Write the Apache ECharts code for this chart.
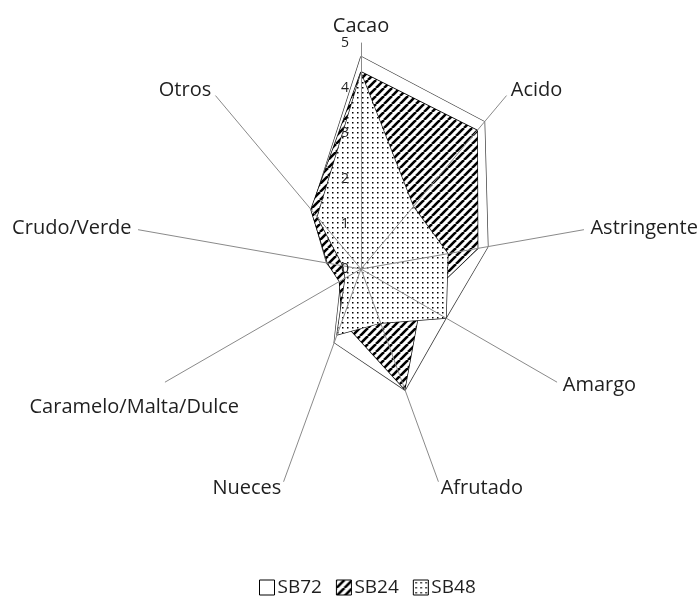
<!DOCTYPE html>
<html>
<head>
<meta charset="utf-8">
<script src="https://cdn.jsdelivr.net/npm/echarts@6/dist/echarts.min.js"></script>
<style>
html,body{margin:0;padding:0;background:#fff;}
#c{width:697px;height:600px;}
</style>
</head>
<body>
<div id="c"></div>
<script>
// ---- data (clockwise from the top, as in the reference) ----
const categories = ['Cacao','Acido','Astringente','Amargo','Afrutado','Nueces','Caramelo/Malta/Dulce','Crudo/Verde','Otros'];
const seriesNames = ['SB72','SB24','SB48'];
const SB72 = [4.7, 4.25, 2.85, 2.17, 2.85, 1.73, 0.51, 0.77, 1.7];
const SB24 = [4.36, 4.0, 2.62, 1.52, 2.83, 1.22, 0.55, 0.75, 1.72];
const SB48 = [4.33, 1.8, 1.95, 2.17, 1.27, 1.55, 0.4, 0.4, 1.5];
const axisMin = 0, axisMax = 5, axisSplits = 5;

// ECharts lays radar indicators out counter-clockwise: reorder so they read clockwise
const order = [0].concat(categories.map((_, i) => i).slice(1).reverse());
const reorder = arr => order.map(i => arr[i]);

// ---- patterns ----
function hatchPattern(){
  const p = 8, c = document.createElement('canvas');
  c.width = p; c.height = p;
  const g = c.getContext('2d');
  g.fillStyle = '#fff'; g.fillRect(0,0,p,p);
  g.strokeStyle = '#000'; g.lineWidth = 2.6;
  for (const o of [-p, 0, p]) { g.beginPath(); g.moveTo(o, p); g.lineTo(o + p, 0); g.stroke(); }
  return {image: c, repeat: 'repeat'};
}
function dotPattern(){
  const p = 5, c = document.createElement('canvas');
  c.width = p; c.height = p;
  const g = c.getContext('2d');
  g.fillStyle = '#fff'; g.fillRect(0,0,p,p);
  g.fillStyle = '#000'; g.fillRect(2,2,1.5,1.5);
  return {image: c, repeat: 'repeat'};
}
const fills = ['#ffffff', hatchPattern(), dotPattern()];
const lineColors = ['#3a3a3a', '#000000', '#1a1a1a'];
const values = [SB72, SB24, SB48];

const CX = 361, CY = 269, R = 226;
const FONT = 'Open Sans';
const TXT = '#1f1f1f';

const chart = echarts.init(document.getElementById('c'), null, {renderer: 'canvas'});

// Excel places this long name centred below its axis end
const cmIdx = categories.indexOf('Caramelo/Malta/Dulce');
const cmAng = (90 - cmIdx * 360 / categories.length) * Math.PI / 180;
const cmX = CX + R * Math.cos(cmAng), cmY = CY - R * Math.sin(cmAng);

chart.setOption({
  animation: false,
  backgroundColor: '#fff',
  radar: {
    center: [CX, CY],
    radius: R,
    startAngle: 90,
    shape: 'polygon',
    splitNumber: axisSplits,
    z: 10,
    indicator: reorder(categories).map((n, i) => i === 0
      ? {name: n, min: axisMin, max: axisMax, axisLabel: {show: true}}
      : {name: n, min: axisMin, max: axisMax}),
    axisName: {
      color: TXT, fontFamily: FONT, fontSize: 20,
      formatter: n => n === 'Caramelo/Malta/Dulce' ? '' : n
    },
    axisNameGap: 7,
    axisLine: {lineStyle: {color: '#8a8a8a', width: 1}},
    axisTick: {show: false},
    splitLine: {show: false},
    splitArea: {show: false},
    axisLabel: {show: false, fontSize: 14, color: '#1f1f1f', fontFamily: FONT, margin: 12}
  },
  legend: {
    left: 254, top: 573,
    icon: 'rect', itemWidth: 15, itemHeight: 15, itemGap: 14,
    textStyle: {fontSize: 19, fontFamily: FONT, color: TXT, padding: [0,0,0,-2]},
    data: seriesNames.map((n, i) => ({name: n, itemStyle: {color: fills[i], borderColor: '#000', borderWidth: 1}}))
  },
  graphic: [{
    type: 'text',
    style: {
      text: 'Caramelo/Malta/Dulce', x: cmX - 31, y: cmY + 25,
      align: 'center', verticalAlign: 'middle',
      fontSize: 20, fontFamily: FONT, fill: TXT
    }
  }],
  series: [{
    type: 'radar',
    symbol: 'none',
    data: seriesNames.map((n, i) => ({
      name: n,
      value: reorder(values[i]),
      itemStyle: {color: fills[i]},
      lineStyle: {color: lineColors[i], width: 1.4},
      areaStyle: {color: fills[i], opacity: 1}
    }))
  }]
});
</script>
</body>
</html>
